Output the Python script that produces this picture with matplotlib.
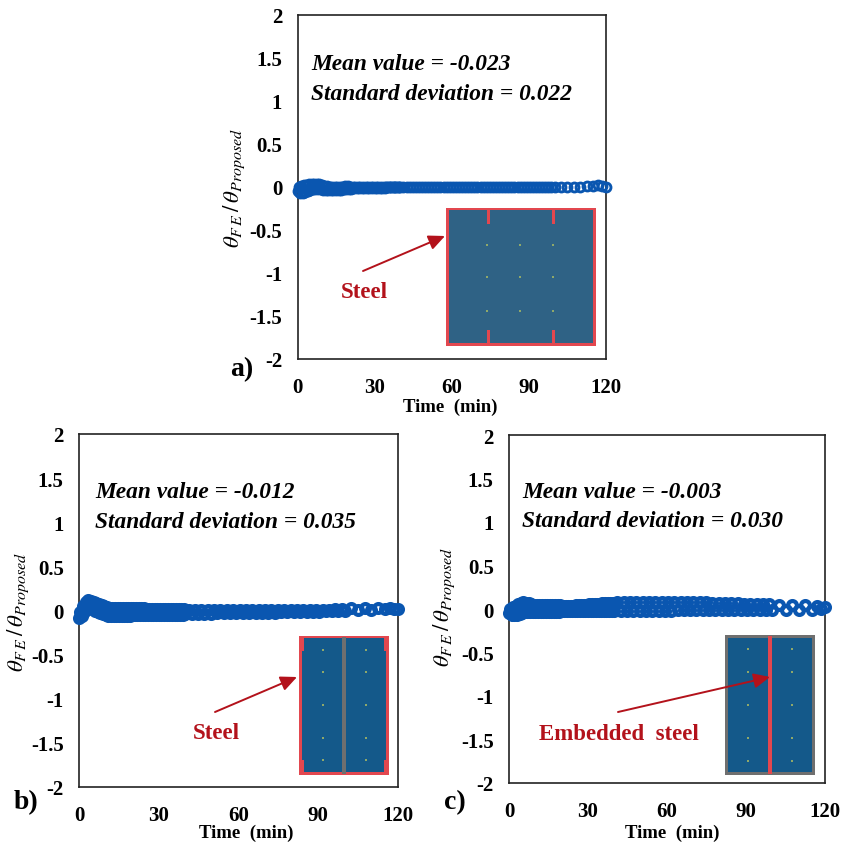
import matplotlib
matplotlib.use("Agg")  # non-interactive backend
import matplotlib.pyplot as plt
from matplotlib.patches import FancyArrowPatch, Rectangle

W, H = 843, 845

x_ticks = [0, 30, 60, 90, 120]
y_ticks = [-2, -1.5, -1, -0.5, 0, 0.5, 1, 1.5, 2]
y_tick_labels = ["-2", "-1.5", "-1", "-0.5", "0", "0.5", "1", "1.5", "2"]

time_min = [
    0, 0.5, 1, 1.5, 2, 2.5, 3, 3.5, 4, 4.5,
    5, 5.5, 6, 6.5, 7, 7.5, 8, 8.5, 9, 9.5,
    10, 10.5, 11, 11.5, 12, 12.5, 13, 13.5, 14, 14.5,
    15, 15.5, 16, 16.5, 17, 17.5, 18, 18.5, 19, 19.5,
    20, 20.5, 21, 21.5, 22, 22.5, 23, 23.5, 24, 24.5,
    25, 25.5, 26, 26.5, 27, 27.5, 28, 28.5, 29, 29.5,
    30, 30.5, 31, 31.5, 32, 32.5, 33, 33.5, 34, 34.5,
    35, 35.5, 36, 36.5, 37, 37.5, 38, 38.5, 39, 39.5,
    40, 41.2, 42.4, 43.6, 44.8, 46, 47.2, 48.4, 49.6, 50.8,
    52, 53.2, 54.4, 55.6, 56.8, 58, 59.2, 60.4, 61.6, 62.8,
    64, 65.2, 66.4, 67.6, 68.8, 70, 71.2, 72.4, 73.6, 74.8,
    76, 77.2, 78.4, 79.6, 80.8, 82, 83.2, 84.4, 85.6, 86.8,
    88, 89.2, 90.4, 91.6, 92.8, 94, 95.2, 96.4, 97.6, 98.8,
    100, 102.5, 105, 107.5, 110, 112.5, 115, 117, 118.5, 120,
]

theta_a = [
    -0.05, 0.0, -0.07, 0.01, -0.07, 0.02, -0.06, 0.02, -0.05, 0.03,
    -0.04, 0.03, -0.03, 0.03, -0.03, 0.03, -0.03, 0.03, -0.03, 0.02,
    -0.04, 0.01, -0.04, 0.01, -0.04, 0.0, -0.04, 0.0, -0.04, 0.0,
    -0.04, 0.0, -0.04, 0.0, -0.04, 0.0, -0.03, 0.01, -0.03, 0.01,
    -0.03, 0.0, -0.03, 0.0, -0.02, 0.0, -0.02, 0.0, -0.02, 0.0,
    -0.01, 0.0, -0.01, 0.0, -0.01, 0.0, -0.01, 0.0, -0.01, 0.0,
    -0.01, 0.0, -0.01, 0.0, -0.01, 0.0, -0.01, 0.0, -0.01, 0.0,
    -0.005, 0.0, -0.005, 0.0, -0.005, 0.0, -0.005, 0.0, -0.005, 0.0,
    0.0, 0.0, 0.0, 0.0, 0.0, 0.0, 0.0, 0.0, 0.0, 0.0,
    0.0, 0.0, 0.0, 0.0, 0.0, 0.0, 0.0, 0.0, 0.0, 0.0,
    0.0, 0.0, 0.0, 0.0, 0.0, 0.0, 0.0, 0.0, 0.0, 0.0,
    0.0, 0.0, 0.0, 0.0, 0.0, 0.0, 0.0, 0.0, 0.0, 0.0,
    0.0, 0.0, 0.0, 0.0, 0.0, 0.0, 0.0, 0.0, 0.0, 0.0,
    0.0, 0.0, 0.0, 0.0, 0.0, 0.005, 0.01, 0.015, 0.01, 0.0,
]

theta_b = [
    -0.08, -0.02, -0.06, 0.05, -0.02, 0.1, 0.02, 0.115, 0.03, 0.11,
    0.02, 0.1, 0.0, 0.085, -0.02, 0.07, -0.03, 0.06, -0.04, 0.05,
    -0.05, 0.04, -0.06, 0.03, -0.06, 0.03, -0.06, 0.03, -0.06, 0.025,
    -0.06, 0.025, -0.06, 0.025, -0.06, 0.025, -0.06, 0.025, -0.06, 0.025,
    -0.055, 0.025, -0.055, 0.025, -0.055, 0.025, -0.055, 0.025, -0.055, 0.025,
    -0.055, 0.02, -0.055, 0.02, -0.055, 0.02, -0.055, 0.02, -0.05, 0.02,
    -0.05, 0.015, -0.05, 0.015, -0.05, 0.015, -0.05, 0.015, -0.05, 0.015,
    -0.05, 0.015, -0.05, 0.015, -0.05, 0.015, -0.05, 0.015, -0.05, 0.015,
    -0.04, 0.01, -0.04, 0.01, -0.04, 0.01, -0.04, 0.01, -0.04, 0.01,
    -0.03, 0.005, -0.03, 0.005, -0.03, 0.005, -0.03, 0.005, -0.03, 0.005,
    -0.03, 0.005, -0.03, 0.005, -0.025, 0.005, -0.025, 0.005, -0.025, 0.005,
    -0.02, 0.01, -0.02, 0.01, -0.02, 0.01, -0.02, 0.01, -0.02, 0.01,
    -0.015, 0.01, -0.015, 0.01, -0.01, 0.01, -0.01, 0.015, -0.01, 0.02,
    0.0, 0.025, 0.01, 0.03, 0.01, 0.03, 0.015, 0.03, 0.02, 0.015,
]

theta_c = [
    -0.05, 0.0, -0.07, 0.02, -0.07, 0.04, -0.07, 0.06, -0.06, 0.07,
    -0.05, 0.075, -0.04, 0.07, -0.03, 0.07, -0.03, 0.06, -0.03, 0.05,
    -0.03, 0.05, -0.03, 0.05, -0.03, 0.05, -0.03, 0.05, -0.03, 0.05,
    -0.03, 0.05, -0.03, 0.05, -0.03, 0.05, -0.03, 0.05, -0.03, 0.05,
    -0.02, 0.04, -0.02, 0.04, -0.02, 0.04, -0.02, 0.04, -0.02, 0.04,
    -0.02, 0.045, -0.02, 0.045, -0.02, 0.045, -0.02, 0.045, -0.02, 0.045,
    -0.02, 0.055, -0.02, 0.055, -0.02, 0.055, -0.02, 0.055, -0.02, 0.055,
    -0.02, 0.07, -0.02, 0.07, -0.02, 0.07, -0.02, 0.07, -0.02, 0.07,
    -0.025, 0.08, -0.025, 0.08, -0.025, 0.08, -0.025, 0.08, -0.025, 0.08,
    -0.025, 0.08, -0.025, 0.08, -0.025, 0.08, -0.025, 0.08, -0.025, 0.08,
    -0.015, 0.075, -0.015, 0.075, -0.015, 0.075, -0.015, 0.075, -0.015, 0.075,
    -0.01, 0.065, -0.01, 0.065, -0.01, 0.065, -0.01, 0.065, -0.01, 0.065,
    -0.01, 0.055, -0.01, 0.055, -0.01, 0.055, -0.01, 0.055, -0.01, 0.055,
    -0.01, 0.05, -0.01, 0.05, -0.01, 0.05, -0.01, 0.04, 0.0, 0.02,
]

mean_labels = ["Mean value = -0.023", "Mean value = -0.012", "Mean value = -0.003"]
std_labels = ["Standard deviation = 0.022", "Standard deviation = 0.035", "Standard deviation = 0.030"]

BLUE = "#0a56b0"
RED = "#b3121b"
BRIGHT_RED = "#e2474f"
GREY = "#6f6f6f"
TEAL_A = "#2f6285"
TEAL = "#14598a"
DOT = "#8fa86a"
Y_LABEL = r"$\theta_{F\,E}\,/\,\theta_{Proposed}$"

plt.rcParams["font.family"] = ["Liberation Serif", "DejaVu Serif"]
plt.rcParams["mathtext.fontset"] = "stix"


def fx(x):
    return x / W


def fy(y):
    return 1 - y / H


def box(fig, x0, y0, x1, y1, color, z=3):
    fig.add_artist(Rectangle((fx(x0), fy(y1)), (x1 - x0) / W, (y1 - y0) / H,
                             transform=fig.transFigure, facecolor=color,
                             edgecolor="none", zorder=z))


def panel(fig, frame, values, edge, mean_text, std_text, text_x, text_y, ylabel_x, ylabel_y, tag, tag_xy, time_xy):
    x0, y0, x1, y1 = frame
    ax = fig.add_axes([fx(x0), fy(y1), (x1 - x0) / W, (y1 - y0) / H])
    ax.plot(time_min, values, "o", ms=6.4, mfc="none", mec=BLUE, mew=edge, clip_on=False, zorder=3)
    ax.set_xlim(0, 120)
    ax.set_ylim(-2, 2)
    ax.set_xticks(x_ticks)
    ax.set_yticks(y_ticks)
    ax.set_yticklabels(y_tick_labels)
    ax.tick_params(length=0, labelsize=15)
    ax.tick_params(axis="y", pad=11)
    ax.tick_params(axis="x", pad=13)
    plt.setp(ax.get_xticklabels() + ax.get_yticklabels(), fontweight="bold")
    for spine in ax.spines.values():
        spine.set_linewidth(1.2)
        spine.set_color("#222222")
    fig.text(fx(text_x), fy(text_y[0]), mean_text, fontsize=16.8, style="italic",
             fontweight="bold", va="center", ha="left")
    fig.text(fx(text_x), fy(text_y[1]), std_text, fontsize=16.8, style="italic",
             fontweight="bold", va="center", ha="left")
    fig.text(fx(ylabel_x), fy(ylabel_y), Y_LABEL, fontsize=16.5, rotation=90,
             va="center", ha="center")
    fig.text(fx(tag_xy[0]), fy(tag_xy[1]), tag, fontsize=20, fontweight="bold", va="center", ha="left")
    fig.text(fx(time_xy[0]), fy(time_xy[1]), "Time  (min)", fontsize=13.5, fontweight="bold",
             va="center", ha="center")


def callout(fig, label, label_xy, start, end):
    fig.text(fx(label_xy[0]), fy(label_xy[1]), label, color=RED, fontsize=16.5, fontweight="bold",
             va="center", ha="center", zorder=6)
    fig.add_artist(FancyArrowPatch((fx(start[0]), fy(start[1])), (fx(end[0]), fy(end[1])),
                                   transform=fig.transFigure, arrowstyle="-|>,head_length=0.7,head_width=0.32",
                                   mutation_scale=14, color=RED, lw=1.4, shrinkA=0, shrinkB=0, zorder=6))


def dots(fig, xs, ys):
    for dx in xs:
        for dy in ys:
            box(fig, dx - 1, dy - 0.6, dx + 1, dy + 0.6, DOT, z=5)


fig = plt.figure(figsize=(W / 100, H / 100), dpi=100)

panel(fig, (297.5, 15.5, 606, 360), theta_a, 2.1, mean_labels[0], std_labels[0], 311, (65, 95),
      234, 188, "a)", (230, 370), (450, 407))
panel(fig, (79, 435, 398, 788), theta_b, 3.0, mean_labels[1], std_labels[1], 95, (493, 523),
      18, 612, "b)", (14, 803), (246, 833))
panel(fig, (509, 436, 825, 784), theta_c, 3.0, mean_labels[2], std_labels[2], 522, (493, 522),
      444, 607, "c)", (444, 803), (672, 833))

# inset a: square section, steel around the edge
box(fig, 446, 209, 596, 347, BRIGHT_RED)
box(fig, 449, 211, 593, 344, TEAL_A, z=4)
for sx in (488, 553):
    box(fig, sx - 1.5, 211, sx + 1.5, 225, BRIGHT_RED, z=5)
    box(fig, sx - 1.5, 331, sx + 1.5, 346, BRIGHT_RED, z=5)
dots(fig, (487, 520, 553), (246, 278, 312))

# inset b: steel tube with a grey core wall
box(fig, 299, 637, 389, 776, BRIGHT_RED)
box(fig, 302, 639, 386, 773, TEAL, z=4)
for cx0, cx1 in ((302, 304), (384, 386)):
    box(fig, cx0, 639, cx1, 652, BRIGHT_RED, z=5)
    box(fig, cx0, 761, cx1, 773, BRIGHT_RED, z=5)
box(fig, 342, 638, 346, 775, GREY, z=5)
dots(fig, (323, 366), (651, 673, 706, 739, 761))

# inset c: embedded steel plate
box(fig, 725, 636, 815, 776, GREY)
box(fig, 728, 639, 812, 773, TEAL, z=4)
box(fig, 768, 637, 772, 775, BRIGHT_RED, z=5)
dots(fig, (748, 792), (650, 673, 706, 739, 762))

callout(fig, "Steel", (364, 293), (363, 272), (445, 237))
callout(fig, "Steel", (216, 734), (215, 713), (297, 678))
callout(fig, "Embedded  steel", (619, 735), (618, 713), (770, 678))

fig.savefig("out.png", dpi=100)
plt.close(fig)
